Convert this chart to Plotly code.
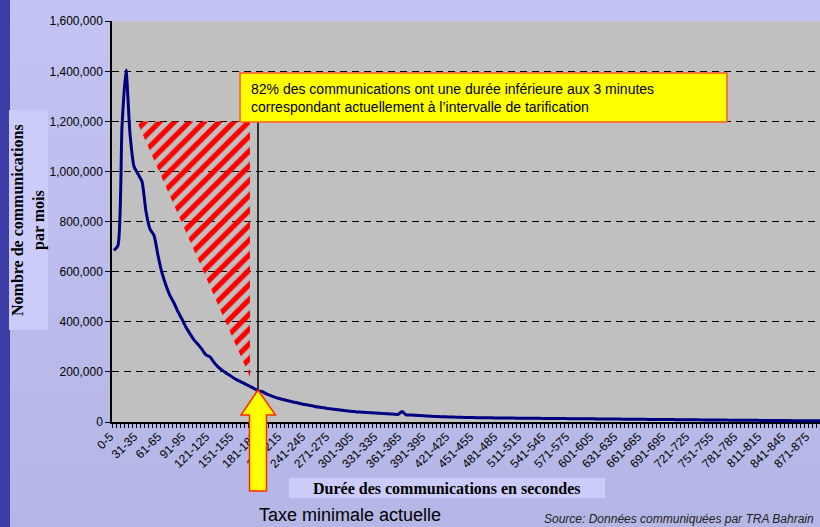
import plotly.graph_objects as go

# ---------------- data ----------------
categories = ["0-5"] + [f"{5 * i + 1}-{5 * i + 5}" for i in range(1, 180)]

calls_per_month = [
    685000, 705000, 1180000, 1405000, 1150000, 1020000, 990000, 960000, 840000, 770000,
    745000, 665000, 595000, 545000, 505000, 475000, 440000, 410000, 378000, 352000,
    328000, 310000, 290000, 268000, 260000, 238000, 220000, 207000, 196000, 186000,
    175000, 166000, 158000, 150000, 142000, 134000, 124000, 122000, 113000, 106000,
    100000, 95000, 91000, 87000, 83000, 79000, 76000, 72000, 69000, 66000,
    63000, 60000, 58000, 55000, 53000, 51000, 49000, 47000, 45000, 43000,
    41500, 40000, 39000, 38000, 37000, 36000, 35000, 34000, 33000, 32000,
    31000, 30500, 42000, 28500, 28000, 27000, 26000, 25000, 24000, 23000,
    22000, 21500, 21000, 20500, 20000, 19500, 19000, 18500, 18000, 17800,
    17500, 17300, 17000, 16800, 16600, 16400, 16200, 16000, 15800, 15600,
    15500, 15300, 15200, 15000, 14900, 14700, 14600, 14400, 14300, 14100,
    14000, 13800, 13700, 13500, 13400, 13200, 13100, 12900, 12800, 12600,
    12500, 12300, 12200, 12000, 11900, 11700, 11600, 11400, 11300, 11100,
    11000, 10800, 10700, 10500, 10400, 10200, 10100, 9900, 9800, 9600,
    9500, 9300, 9200, 9000, 8900, 8700, 8600, 8400, 8300, 8100,
    8000, 7900, 7700, 7600, 7400, 7300, 7100, 7000, 6900, 6700,
    6600, 6500, 6300, 6200, 6100, 6000, 5900, 5700, 5600, 5500,
    5400, 5300, 5200, 5100, 5000, 4900, 4800, 4700, 4600, 4500,
]

y_tick_values = [0, 200000, 400000, 600000, 800000, 1000000, 1200000, 1400000, 1600000]
label_step = 6
tick_positions = list(range(0, len(categories), label_step))
tick_labels = categories[::label_step]

threshold_category = "181-185"          # current minimal charging interval (3 min)
hatch_top_value = 1200000
hatch_bottom_value = 180000
hatch_left_category = 5.75
hatch_right_category = 34

box_text = ("82% des communications ont une durée inférieure aux 3 minutes<br>"
            "correspondant actuellement à l’intervalle de tarification")

# ---------------- geometry ----------------
W, H = 820, 527
ML, MR, MT, MB = 112, 0, 21, 105
PW = W - ML - MR
PH = H - MT - MB
CAT_W = 4.0
x_range = [-0.5, -0.5 + PW / CAT_W]


def px(x):
    return (x - ML) / PW


def py(y):
    return (H - MB - y) / PH


def mix(c1, c2, t):
    a = [int(c1[i:i + 2], 16) for i in (1, 3, 5)]
    b = [int(c2[i:i + 2], 16) for i in (1, 3, 5)]
    return "#" + "".join(f"{round(a[k] + (b[k] - a[k]) * t):02x}" for k in range(3))


xs = list(range(len(categories)))
thr_idx = categories.index(threshold_category)

fig = go.Figure()

# hatched triangle
fig.add_trace(go.Scatter(
    x=[hatch_left_category, hatch_right_category, hatch_right_category, hatch_left_category],
    y=[hatch_top_value, hatch_top_value, hatch_bottom_value, hatch_top_value],
    mode="lines", fill="toself", line=dict(width=0, color="rgba(0,0,0,0)"),
    fillcolor="rgba(0,0,0,0)",
    fillpattern=dict(shape="/", fgcolor="#FF0000", fgopacity=1, bgcolor="rgba(0,0,0,0)",
                     size=10.5, solidity=0.5),
    hoverinfo="skip", showlegend=False,
))

# main curve
fig.add_trace(go.Scatter(
    x=xs, y=calls_per_month, mode="lines",
    line=dict(color="#000080", width=3, shape="spline", smoothing=0.6),
    customdata=categories,
    hovertemplate="%{customdata}: %{y:,}<extra></extra>",
    showlegend=False,
))

shapes = []

# background gradient (margins only)
top_c, bot_c = "#C3C4F3", "#B4B6E5"
edges = sorted(set([0, MT, H - MB, H] + list(range(0, H + 1, 15))))
for k in range(len(edges) - 1):
    y0, y1 = edges[k], edges[k + 1]
    col = mix(top_c, bot_c, ((y0 + y1) / 2) / H)
    inside = y0 >= MT and y1 <= H - MB
    x1 = ML if inside else W
    shapes.append(dict(type="rect", xref="paper", yref="paper", layer="below",
                       x0=px(0), x1=px(x1), y0=py(y1), y1=py(y0),
                       fillcolor=col, line=dict(width=0)))

# left dark strip
shapes.append(dict(type="rect", xref="paper", yref="paper", layer="below",
                   x0=px(0), x1=px(10), y0=py(H), y1=py(0),
                   fillcolor="#3C3CA6", line=dict(width=0)))

# axis-title backgrounds
shapes.append(dict(type="rect", xref="paper", yref="paper", layer="below",
                   x0=px(9), x1=px(48), y0=py(330), y1=py(110),
                   fillcolor="#CBCCFA", line=dict(width=0)))
shapes.append(dict(type="rect", xref="paper", yref="paper", layer="below",
                   x0=px(289), x1=px(605), y0=py(498), y1=py(478),
                   fillcolor="#CBCCFA", line=dict(width=0)))

# vertical threshold line
shapes.append(dict(type="line", xref="x", yref="y", layer="above",
                   x0=thr_idx, x1=thr_idx, y0=calls_per_month[thr_idx], y1=hatch_top_value,
                   line=dict(color="black", width=1.5)))

# yellow text box
shapes.append(dict(type="rect", xref="paper", yref="paper", layer="above",
                   x0=px(240), x1=px(727), y0=py(122), y1=py(73),
                   fillcolor="#FFFF00", line=dict(color="#FF5A2A", width=1.5)))

# yellow arrow
ax_tip = ML + (thr_idx - x_range[0]) * CAT_W
pts = [(ax_tip, 390), (ax_tip + 17.5, 415), (ax_tip + 8.5, 415), (ax_tip + 8.5, 491),
       (ax_tip - 8.5, 491), (ax_tip - 8.5, 415), (ax_tip - 17, 415)]
path = "M " + " L ".join(f"{px(a):.5f},{py(b):.5f}" for a, b in pts) + " Z"
shapes.append(dict(type="path", xref="paper", yref="paper", layer="above", path=path,
                   fillcolor="#FFFF00", line=dict(color="#FF2A00", width=1.5)))

annotations = [
    dict(xref="paper", yref="paper", x=px(249), y=py(98), xanchor="left", yanchor="middle",
         text=box_text, align="left", showarrow=False,
         font=dict(family="Arial, Liberation Sans", size=14, color="black")),
    dict(xref="paper", yref="paper", x=px(29), y=py(220), xanchor="center", yanchor="middle",
         text="<b>Nombre de communications<br>par mois</b>", textangle=-90, showarrow=False,
         font=dict(family="Times New Roman, Liberation Serif", size=16, color="black")),
    dict(xref="paper", yref="paper", x=px(447), y=py(488), xanchor="center", yanchor="middle",
         text="<b>Durée des communications en secondes</b>", showarrow=False,
         font=dict(family="Times New Roman, Liberation Serif", size=16, color="black")),
    dict(xref="paper", yref="paper", x=px(350), y=py(515), xanchor="center", yanchor="middle",
         text="Taxe minimale actuelle", showarrow=False,
         font=dict(family="Arial, Liberation Sans", size=18, color="black")),
    dict(xref="paper", yref="paper", x=px(542), y=py(519), xanchor="left", yanchor="middle",
         text="<i>Source: Données communiquées par TRA Bahrain</i>", showarrow=False,
         font=dict(family="Arial, Liberation Sans", size=12, color="#222222")),
]

fig.update_layout(
    width=W, height=H,
    margin=dict(l=ML, r=MR, t=MT, b=MB, pad=0),
    paper_bgcolor="#BCBDEC",
    plot_bgcolor="#C0C0C0",
    shapes=shapes,
    annotations=annotations,
    showlegend=False,
    xaxis=dict(
        range=x_range, showgrid=False, zeroline=False,
        showline=True, linecolor="black", linewidth=2,
        tickmode="array", tickvals=tick_positions, ticktext=tick_labels,
        tickangle=-45, ticks="", ticklabelshift=-4, ticklabelstandoff=1,
        tickfont=dict(family="Arial, Liberation Sans", size=12, color="black"),
        minor=dict(ticks="outside", tickmode="linear", tick0=-0.5, dtick=1,
                   ticklen=4, tickcolor="black", tickwidth=1, showgrid=False),
    ),
    yaxis=dict(
        range=[0, 1601000], tickmode="array", tickvals=y_tick_values,
        tickformat=",", zeroline=False,
        showline=True, linecolor="black", linewidth=1.5,
        ticks="outside", ticklen=5, tickcolor="black",
        showgrid=True, gridcolor="black", gridwidth=1, griddash="7px,5px",
        tickfont=dict(family="Arial, Liberation Sans", size=12, color="black"),
    ),
)

fig.write_html(
    "out.html",
    config={"displayModeBar": False},
    post_script="document.body.style.margin='0';document.body.style.overflow='hidden';",
)
